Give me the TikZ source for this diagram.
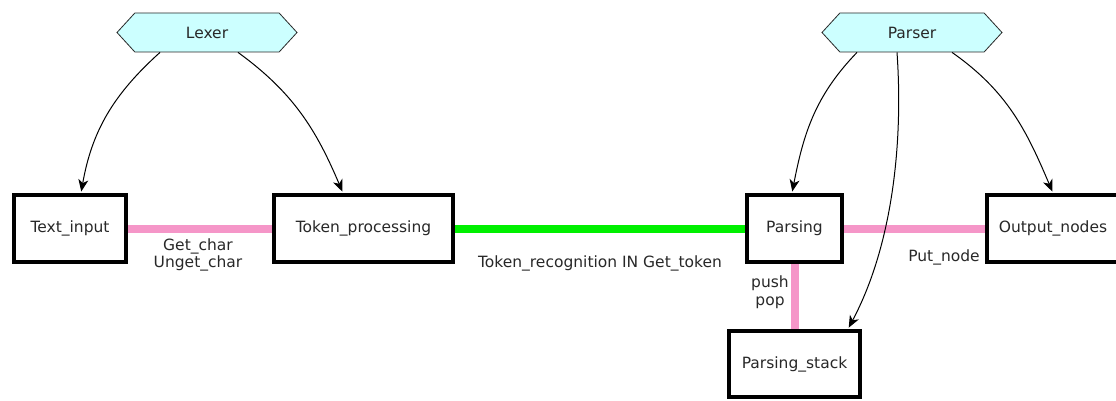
\documentclass[tikz,border=0pt]{standalone}
\usepackage{fontspec}
\setmainfont{DejaVu Sans}
\usetikzlibrary{arrows.meta,shapes.symbols,backgrounds}

\definecolor{linkpink}{RGB}{245,150,200}
\definecolor{linkgreen}{RGB}{0,240,0}
\definecolor{hexfill}{RGB}{204,255,255}
\definecolor{ink}{RGB}{40,40,40}

\begin{document}
\begin{tikzpicture}[x=1pt,y=1pt,
  font=\fontsize{15.5}{17.5}\selectfont, text=ink,
  module/.style={draw=black, line width=4pt, fill=white, minimum height=67pt, inner sep=0pt},
  agent/.style={signal, signal to=west and east, signal pointer angle=95,
    draw=ink, line width=0.8pt, fill=hexfill, minimum width=180pt,
    minimum height=39pt, inner sep=0pt},
  pinklink/.style={draw=linkpink, line width=8pt},
  greenlink/.style={draw=linkgreen, line width=8pt},
  flow/.style={-{Stealth[length=12pt,width=10pt,inset=3.5pt]}, line width=1pt, draw=black, shorten >=1.5pt},
  lbl/.style={align=center, inner sep=0pt}
]
\useasboundingbox (0,0) rectangle (1116,-401);

% agents
\node[agent] (lexer)  at (207,-32.5) {Lexer};
\node[agent] (parser) at (912,-32.5) {Parser};

% modules
\node[module, minimum width=112pt] (ti)      at (70,-228.5)    {Text\_input};
\node[module, minimum width=179pt] (tp)      at (363.5,-228.5) {Token\_processing};
\node[module, minimum width=95pt]  (parsing) at (794.5,-228.5) {Parsing};
\node[module, minimum width=132pt] (outn)    at (1053,-228.5)  {Output\_nodes};
\node[module, minimum width=131pt, minimum height=66pt] (pstack) at (794.5,-364) {Parsing\_stack};

% interface links
\begin{scope}[on background layer]
  \draw[pinklink]  (ti) -- (tp);
  \draw[greenlink] (tp) -- (parsing);
  \draw[pinklink]  (parsing) -- (outn);
  \draw[pinklink]  (parsing) -- (pstack);
\end{scope}

% link labels
\node[lbl] (lgc) at (198,-255) {Get\_char\\Unget\_char};
\node[lbl] (ltr) at (600,-263) {Token\_recognition IN Get\_token};
\node[lbl] (lpn) at (944,-257) {Put\_node};
\node[lbl] (lpp) at (770,-292) {push\\pop};

% control flow
\draw[flow] ([xshift=-47pt]lexer.south) to[out=222,in=80] ([xshift=11pt]ti.north);
\draw[flow] ([xshift=31pt]lexer.south) to[out=324,in=113] ([xshift=-20.5pt]tp.north);
\draw[flow] ([xshift=-55pt]parser.south) to[out=226,in=79] ([xshift=-2.5pt]parsing.north);
\draw[flow] ([xshift=-15pt]parser.south) to[out=274,in=62,looseness=0.85] ([xshift=53.5pt]pstack.north);
\draw[flow] ([xshift=40pt]parser.south) to[out=325,in=113] (outn.north);
\end{tikzpicture}
\end{document}
